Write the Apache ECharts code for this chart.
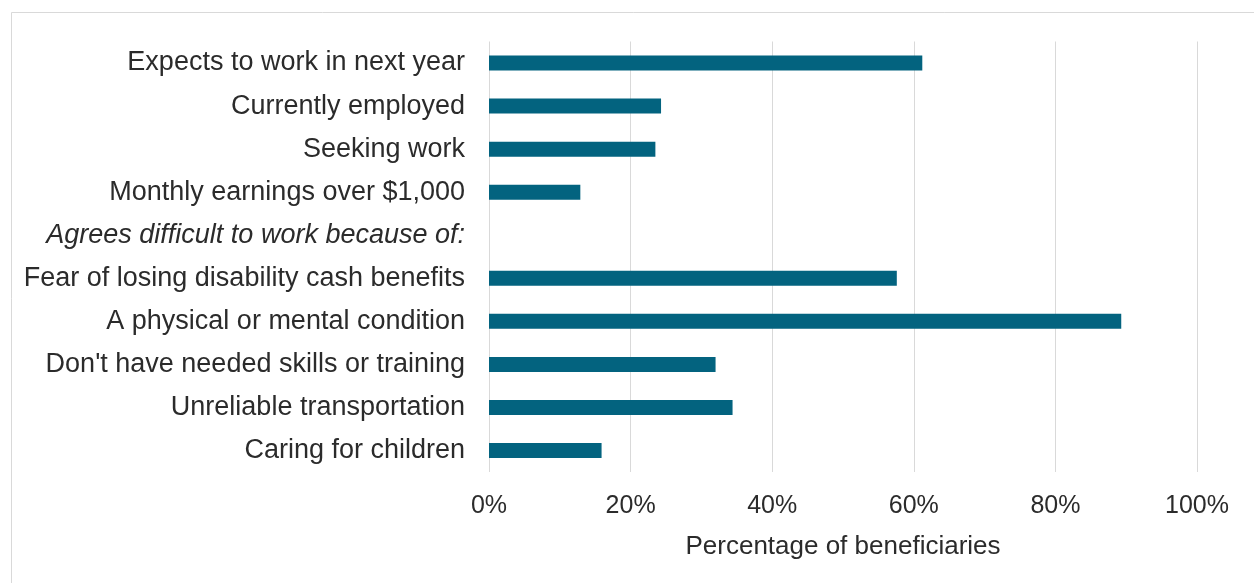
<!DOCTYPE html>
<html>
<head>
<meta charset="utf-8">
<script src="https://cdn.jsdelivr.net/npm/echarts@6/dist/echarts.min.js"></script>
<style>
  html, body { margin: 0; padding: 0; background: #fff; }
  #chart { width: 1254px; height: 583px; }
</style>
</head>
<body>
<div id="chart"></div>
<script>
const categories = [
    'Expects to work in next year',
    'Currently employed',
    'Seeking work',
    'Monthly earnings over $1,000',
    'Agrees difficult to work because of:',
    'Fear of losing disability cash benefits',
    'A physical or mental condition',
    "Don't have needed skills or training",
    'Unreliable transportation',
    'Caring for children'
];
// heading row has no bar
const values = [61.2, 24.3, 23.5, 12.9, null, 57.6, 89.3, 32.0, 34.4, 15.9];
const headingIndex = 4;

const textColor = '#2b2b2b';
const barColor = '#03637f';
const fontName = '"Liberation Sans", Arial, sans-serif';

const chart = echarts.init(document.getElementById('chart'), null, { renderer: 'canvas' });

chart.setOption({
    animation: false,
    backgroundColor: '#ffffff',
    graphic: [{
        type: 'rect',
        shape: { x: 11.5, y: 12.5, width: 1300, height: 640 },
        style: { fill: 'none', stroke: '#d9d9d9', lineWidth: 1 },
        silent: true
    }],
    grid: {
        left: 489,
        right: 57,
        top: 41.5,
        bottom: 111
    },
    xAxis: {
        type: 'value',
        min: 0,
        max: 100,
        interval: 20,
        name: 'Percentage of beneficiaries',
        nameLocation: 'middle',
        nameGap: 62,
        nameTextStyle: {
            fontFamily: fontName,
            fontSize: 26,
            color: textColor
        },
        axisLine: { show: false },
        axisTick: { show: false },
        axisLabel: {
            formatter: '{value}%',
            fontFamily: fontName,
            fontSize: 25,
            color: textColor,
            margin: 22
        },
        splitLine: {
            show: true,
            lineStyle: { color: '#d9d9d9', width: 1 }
        }
    },
    yAxis: {
        type: 'category',
        inverse: true,
        data: categories,
        axisLine: { show: false },
        axisTick: { show: false },
        axisLabel: {
            margin: 24,
            fontFamily: fontName,
            fontSize: 27,
            color: textColor,
            formatter: function (value, index) {
                if (index === headingIndex) {
                    return '{it|' + value + '}';
                }
                return value;
            },
            rich: {
                it: {
                    fontFamily: fontName,
                    fontSize: 27,
                    fontStyle: 'italic',
                    color: textColor
                }
            }
        }
    },
    series: [{
        type: 'bar',
        data: values,
        barWidth: 15,
        itemStyle: { color: barColor }
    }]
});
</script>
</body>
</html>
